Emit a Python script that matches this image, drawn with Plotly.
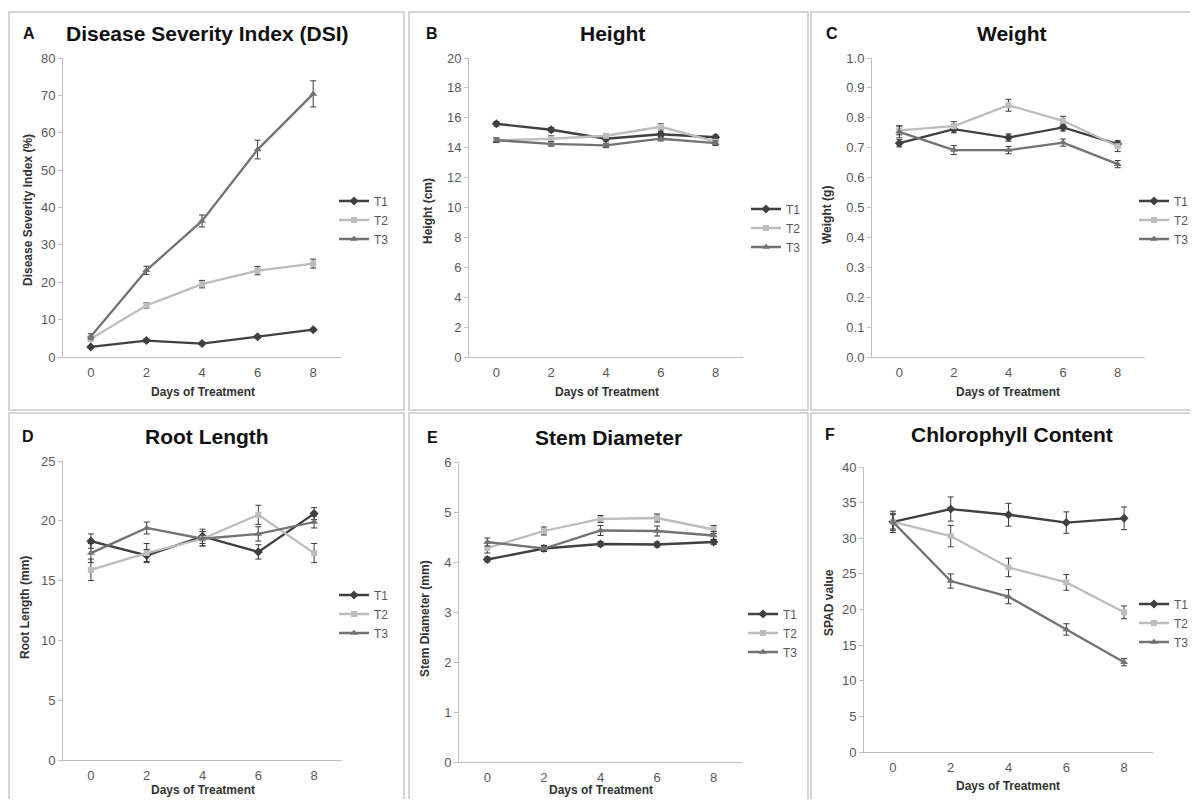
import plotly.graph_objects as go

# ---------------- data ----------------
days = ["0", "2", "4", "6", "8"]
series_names = ["T1", "T2", "T3"]

dsi_t1 = [2.7, 4.4, 3.6, 5.4, 7.3]
dsi_t2 = [4.9, 13.8, 19.5, 23.1, 25.0]
dsi_t3 = [5.5, 23.2, 36.4, 55.5, 70.4]
dsi_t1_err = [0.3, 0.4, 0.4, 0.4, 0.4]
dsi_t2_err = [0.6, 0.7, 1.0, 1.1, 1.2]
dsi_t3_err = [0.7, 1.1, 1.6, 2.5, 3.5]

height_t1 = [15.6, 15.2, 14.6, 14.9, 14.7]
height_t2 = [14.5, 14.6, 14.8, 15.4, 14.4]
height_t3 = [14.5, 14.25, 14.15, 14.6, 14.3]
height_t1_err = [0.15, 0.15, 0.15, 0.2, 0.15]
height_t2_err = [0.15, 0.2, 0.15, 0.2, 0.2]
height_t3_err = [0.15, 0.15, 0.15, 0.15, 0.15]

weight_t1 = [0.715, 0.762, 0.734, 0.768, 0.712]
weight_t2 = [0.758, 0.772, 0.842, 0.790, 0.705]
weight_t3 = [0.753, 0.692, 0.692, 0.717, 0.645]
weight_t1_err = [0.012, 0.012, 0.012, 0.012, 0.010]
weight_t2_err = [0.015, 0.015, 0.020, 0.015, 0.018]
weight_t3_err = [0.020, 0.015, 0.012, 0.012, 0.012]

root_t1 = [18.3, 17.1, 18.7, 17.4, 20.6]
root_t2 = [15.9, 17.3, 18.5, 20.5, 17.3]
root_t3 = [17.3, 19.4, 18.5, 18.9, 19.9]
root_t1_err = [0.6, 0.5, 0.6, 0.6, 0.5]
root_t2_err = [0.9, 0.8, 0.6, 0.8, 0.8]
root_t3_err = [0.8, 0.5, 0.6, 0.6, 0.5]

stem_t1 = [4.05, 4.27, 4.36, 4.35, 4.40]
stem_t2 = [4.28, 4.62, 4.86, 4.88, 4.65]
stem_t3 = [4.40, 4.27, 4.63, 4.62, 4.53]
stem_t1_err = [0.05, 0.05, 0.05, 0.05, 0.05]
stem_t2_err = [0.10, 0.08, 0.07, 0.08, 0.08]
stem_t3_err = [0.08, 0.06, 0.10, 0.10, 0.08]

spad_t1 = [32.3, 34.1, 33.3, 32.2, 32.8]
spad_t2 = [32.3, 30.3, 25.9, 23.8, 19.6]
spad_t3 = [32.3, 24.0, 21.8, 17.2, 12.6]
spad_t1_err = [1.5, 1.7, 1.6, 1.5, 1.6]
spad_t2_err = [1.2, 1.5, 1.3, 1.1, 0.9]
spad_t3_err = [1.0, 1.0, 1.0, 0.8, 0.5]

x_title = "Days of Treatment"

# ---------------- styling ----------------
# Figure is sized so that, with the page's default 8px body margin,
# the whole page is exactly 1198 x 807.
OFF = 8
FW, FH = 1198 - 2 * OFF, 807 - 2 * OFF


def px(x):
    return (x - OFF) / FW


def py(y):
    return 1 - (y - OFF) / FH


FONT = "Liberation Sans, Arial, sans-serif"
line_colors = ["#404040", "#bdbdbd", "#737373"]
marker_symbols = ["diamond", "square", "triangle-up"]
marker_sizes = [7, 6, 7]

panels = [
    dict(letter="A", title="Disease Severity Index (DSI)", ytitle="Disease Severity Index (%)",
         vals=[dsi_t1, dsi_t2, dsi_t3], errs=[dsi_t1_err, dsi_t2_err, dsi_t3_err],
         yrange=[0, 80], dtick=10, fmt="d", box=(63, 341, 58, 357),
         title_x=207, letter_x=29, head_y=33, legend=(334, 220),
         ytitle_pos=(28, 210), xtitle_pos=(203, 392)),
    dict(letter="B", title="Height", ytitle="Height (cm)",
         vals=[height_t1, height_t2, height_t3], errs=[height_t1_err, height_t2_err, height_t3_err],
         yrange=[0, 20], dtick=2, fmt="d", box=(469, 743, 58, 357),
         title_x=612, letter_x=432, head_y=33, legend=(746, 228),
         ytitle_pos=(428, 211), xtitle_pos=(607, 392)),
    dict(letter="C", title="Weight", ytitle="Weight (g)",
         vals=[weight_t1, weight_t2, weight_t3], errs=[weight_t1_err, weight_t2_err, weight_t3_err],
         yrange=[0, 1.0], dtick=0.1, fmt=".1f", box=(872, 1145, 58, 357),
         title_x=1012, letter_x=832, head_y=33, legend=(1134, 220),
         ytitle_pos=(827, 215), xtitle_pos=(1008, 392)),
    dict(letter="D", title="Root Length", ytitle="Root Length (mm)",
         vals=[root_t1, root_t2, root_t3], errs=[root_t1_err, root_t2_err, root_t3_err],
         yrange=[0, 25], dtick=5, fmt="d", box=(63, 342, 461, 760),
         title_x=207, letter_x=28, head_y=436, legend=(334, 614),
         ytitle_pos=(25, 608), xtitle_pos=(203, 790)),
    dict(letter="E", title="Stem Diameter", ytitle="Stem Diameter (mm)",
         vals=[stem_t1, stem_t2, stem_t3], errs=[stem_t1_err, stem_t2_err, stem_t3_err],
         yrange=[0, 6], dtick=1, fmt="d", box=(459, 742, 462, 762),
         title_x=609, letter_x=432, head_y=437, legend=(743, 633),
         ytitle_pos=(425, 619), xtitle_pos=(601, 790)),
    dict(letter="F", title="Chlorophyll Content", ytitle="SPAD value",
         vals=[spad_t1, spad_t2, spad_t3], errs=[spad_t1_err, spad_t2_err, spad_t3_err],
         yrange=[0, 40], dtick=5, fmt="d", box=(864, 1153, 467, 752),
         title_x=1012, letter_x=830, head_y=435, legend=(1134, 623),
         ytitle_pos=(829, 603), xtitle_pos=(1008, 786)),
]

fig = go.Figure()
annotations = []
shapes = []
layout_extra = {}
axis_title_font = dict(family=FONT, size=12, color="#333333")

for i, p in enumerate(panels):
    n = "" if i == 0 else str(i + 1)
    xa, ya = "x" + n, "y" + n
    leg = "legend" + n
    for s in range(3):
        fig.add_trace(go.Scatter(
            x=days, y=p["vals"][s], name=series_names[s],
            xaxis=xa, yaxis=ya, legend=leg,
            mode="lines+markers",
            line=dict(color=line_colors[s], width=2.3),
            marker=dict(symbol=marker_symbols[s], size=marker_sizes[s], color=line_colors[s]),
            error_y=dict(type="data", array=p["errs"][s], visible=True,
                         color="#3a3a3a", thickness=1, width=3),
        ))
    x0, x1, y0, y1 = p["box"]
    layout_extra["xaxis" + n] = dict(
        domain=[px(x0), px(x1)], anchor=ya, type="category", automargin=False,
        range=[-0.5, 4.5], showline=True, linecolor="#bfbfbf", linewidth=1,
        ticks="", showgrid=False, zeroline=False, ticklabelstandoff=3,
        tickfont=dict(family=FONT, size=13, color="#595959"),
    )
    layout_extra["yaxis" + n] = dict(
        domain=[py(y1), py(y0)], anchor=xa, automargin=False,
        range=p["yrange"], dtick=p["dtick"], tick0=0, tickformat=p["fmt"],
        showline=True, linecolor="#bfbfbf", linewidth=1,
        ticks="outside", ticklen=4, tickcolor="#bfbfbf",
        showgrid=False, zeroline=False,
        tickfont=dict(family=FONT, size=13, color="#595959"),
    )
    lx, ly = p["legend"]
    layout_extra[leg] = dict(
        x=px(lx), y=py(ly), xanchor="left", yanchor="middle",
        xref="container", yref="container", bgcolor="rgba(0,0,0,0)",
        font=dict(family=FONT, size=12, color="#595959"),
        itemwidth=30, tracegroupgap=0,
    )
    # panel heading and letter
    annotations.append(dict(
        text="<b>" + p["title"] + "</b>", x=px(p["title_x"]), y=py(p["head_y"]),
        xref="paper", yref="paper", xanchor="center", yanchor="middle",
        showarrow=False, font=dict(family=FONT, size=21, color="#111111")))
    annotations.append(dict(
        text="<b>" + p["letter"] + "</b>", x=px(p["letter_x"]), y=py(p["head_y"]),
        xref="paper", yref="paper", xanchor="center", yanchor="middle",
        showarrow=False, font=dict(family=FONT, size=16, color="#111111")))
    # axis titles
    tx, ty = p["ytitle_pos"]
    annotations.append(dict(
        text="<b>" + p["ytitle"] + "</b>", x=px(tx), y=py(ty), textangle=-90,
        xref="paper", yref="paper", xanchor="center", yanchor="middle",
        showarrow=False, font=axis_title_font))
    tx, ty = p["xtitle_pos"]
    annotations.append(dict(
        text="<b>" + x_title + "</b>", x=px(tx), y=py(ty),
        xref="paper", yref="paper", xanchor="center", yanchor="middle",
        showarrow=False, font=axis_title_font))

# panel frames (page pixel coordinates)
frames = [(9, 12, 404, 410), (409, 12, 808, 410), (811, 12, 1205, 410),
          (9, 413, 404, 815), (409, 413, 808, 815), (811, 413, 1205, 815)]
for fx0, fy0, fx1, fy1 in frames:
    shapes.append(dict(type="rect", xref="paper", yref="paper",
                       x0=px(fx0), x1=px(fx1), y0=py(fy1), y1=py(fy0),
                       line=dict(color="#c8c8c8", width=1.5), fillcolor="rgba(0,0,0,0)",
                       layer="below"))

fig.update_layout(
    width=FW, height=FH, margin=dict(l=0, r=0, t=0, b=0, autoexpand=False),
    paper_bgcolor="white", plot_bgcolor="white",
    annotations=annotations, shapes=shapes,
    font=dict(family=FONT),
    **layout_extra,
)

fig.write_html("out.html", config={"displayModeBar": False})
